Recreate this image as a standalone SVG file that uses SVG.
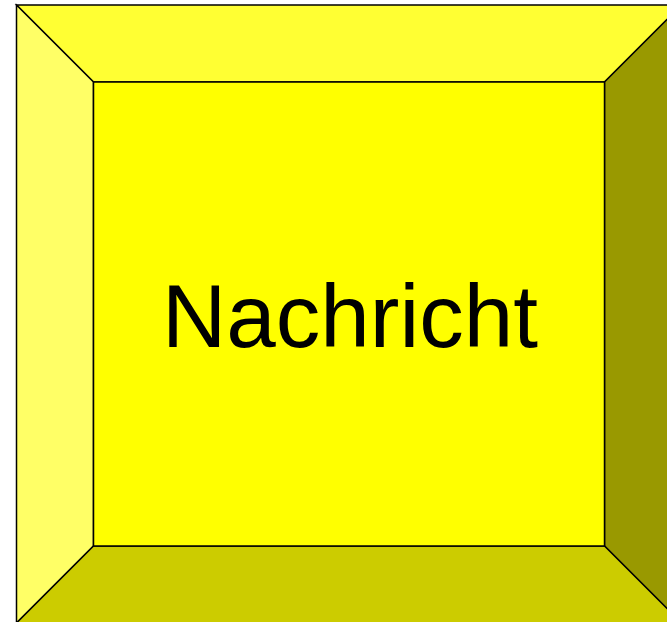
<svg xmlns="http://www.w3.org/2000/svg" width="667" height="622" viewBox="0 0 667 622">
<style>
.f{stroke:#000;stroke-width:1.5;stroke-linejoin:miter}
.t{font-family:"Liberation Sans",Arial,sans-serif;font-size:89px;fill:#000}
</style>
<rect width="667" height="622" fill="#fff"/>
<g id="node-nachricht">
<polygon class="f" fill="#FFFF33" points="16.5,5 681.5,5 604.5,82 93.5,82"/>
<polygon class="f" fill="#FFFF66" points="16.5,5 93.5,82 93.5,546 16.5,623"/>
<polygon class="f" fill="#999900" points="681.5,5 681.5,623 604.5,546 604.5,82"/>
<polygon class="f" fill="#CCCC00" points="16.5,623 93.5,546 604.5,546 681.5,623"/>
<rect class="f" fill="#FFFF00" x="93.5" y="82" width="511" height="464"/>
<text class="t" x="350" y="347" text-anchor="middle">Nachricht</text>
</g>
<g id="connectors"/>
</svg>
